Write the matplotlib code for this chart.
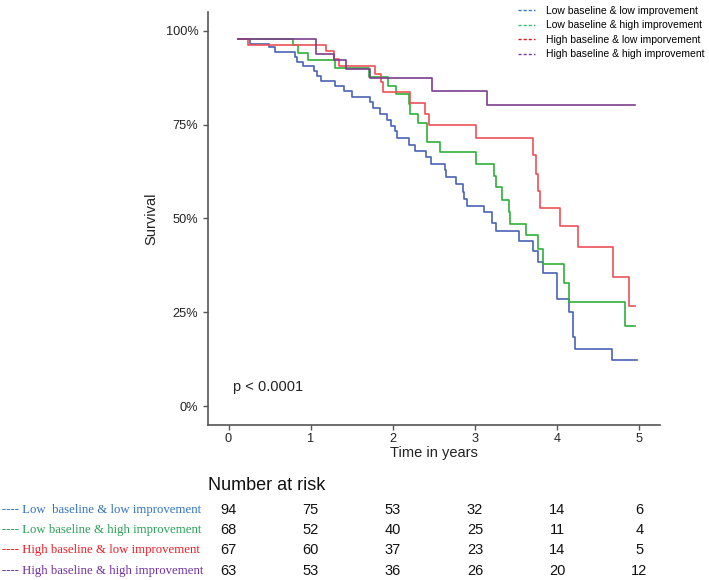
import matplotlib
matplotlib.use("Agg")
import matplotlib.pyplot as plt
import matplotlib.transforms as mtransforms
from matplotlib.lines import Line2D

plt.rcParams['font.family'] = ['Liberation Sans', 'DejaVu Sans']

# survival curves (time in years, survival %)
blue_t = [0.12, 0.26, 0.49, 0.56, 0.81, 0.83, 0.91, 1.04, 1.08, 1.12, 1.29, 1.40,
          1.50, 1.72, 1.76, 1.84, 1.93, 1.98, 2.03, 2.05, 2.20, 2.27, 2.40, 2.46,
          2.63, 2.64, 2.77, 2.85, 2.87, 2.90, 3.11, 3.21, 3.26, 3.54, 3.71, 3.77,
          3.83, 4.00, 4.14, 4.19, 4.21, 4.67, 4.97]
blue_s = [97.8, 96.6, 95.6, 94.4, 93.1, 91.8, 90.7, 89.4, 88.0, 86.7, 85.4, 84.0,
          82.3, 81.0, 79.4, 77.8, 76.2, 74.7, 73.2, 71.5, 69.7, 68.1, 66.3, 64.5,
          62.8, 61.0, 59.2, 57.0, 55.2, 53.3, 51.6, 48.9, 46.6, 44.1, 41.3, 38.4,
          35.5, 28.5, 25.1, 18.4, 15.2, 12.2, 12.2]

green_t = [0.12, 0.79, 0.85, 0.97, 1.30, 1.71, 1.94, 2.04, 2.19, 2.21, 2.31, 2.41,
           2.42, 2.57, 3.01, 3.23, 3.25, 3.33, 3.41, 3.42, 3.62, 3.77, 3.83, 4.08,
           4.14, 4.83, 4.95]
green_s = [97.8, 96.2, 94.2, 92.2, 90.1, 87.6, 85.4, 83.1, 80.4, 77.9, 75.4, 72.5,
           70.3, 67.6, 64.5, 61.4, 58.3, 54.8, 51.7, 48.6, 45.5, 41.9, 37.8, 32.8,
           27.8, 21.3, 21.3]

red_t = [0.12, 0.24, 1.18, 1.28, 1.34, 1.78, 1.86, 1.88, 2.21, 2.39, 2.44, 3.01,
         3.71, 3.74, 3.77, 3.79, 4.03, 4.25, 4.68, 4.87, 4.95]
red_s = [97.8, 96.3, 94.5, 92.4, 90.7, 88.6, 86.3, 83.7, 80.8, 77.9, 75.0, 71.5,
         66.8, 61.9, 57.4, 52.8, 48.1, 42.4, 34.4, 26.8, 26.8]

purple_t = [0.12, 1.06, 1.28, 1.43, 1.72, 2.47, 3.15, 4.95]
purple_s = [97.8, 93.8, 92.3, 89.8, 87.4, 84.0, 80.3, 80.3]

group_names = ["Low baseline & low improvement",
               "Low baseline & high improvement",
               "High baseline & low imporvement",
               "High baseline & high improvement"]
table_names = ["---- Low  baseline & low improvement",
               "---- Low baseline & high improvement",
               "---- High baseline & low improvement",
               "---- High baseline & high improvement"]

risk_times = [0, 1, 2, 3, 4, 5]
risk_blue = [94, 75, 53, 32, 14, 6]
risk_green = [68, 52, 40, 25, 11, 4]
risk_red = [67, 60, 37, 23, 14, 5]
risk_purple = [63, 53, 36, 26, 20, 12]

line_colors = ['#4a63b4', '#2fb03a', '#ec5257', '#7d3d8c']
key_colors = ['#2f78d0', '#2fc070', '#e8101a', '#7a3aa8']
table_colors = ['#2f73c0', '#2aa055', '#ee1c25', '#7030a0']

fig = plt.figure(figsize=(7.09, 5.80), dpi=100)
ax = fig.add_axes([208/709, 1-425/580, (660-208)/709, (425-12)/580])

curves = [(blue_t, blue_s), (green_t, green_s), (red_t, red_s), (purple_t, purple_s)]
for (t, s), c in zip(curves, line_colors):
    ax.step(t, s, where='post', color=c, lw=1.2)

ax.set_xlim(-0.25, 5.25)
ax.set_ylim(-5, 105)
ax.set_xticks([0, 1, 2, 3, 4, 5])
ax.set_yticks([0, 25, 50, 75, 100])
ax.set_yticklabels(["0%", "25%", "50%", "75%", "100%"])
for sp in ['top', 'right']:
    ax.spines[sp].set_visible(False)
for sp in ['left', 'bottom']:
    ax.spines[sp].set_color('#555555')
    ax.spines[sp].set_linewidth(1.2)
ax.tick_params(colors='#555555', labelcolor='#222222', labelsize=9.2, length=3.5, width=1)
ax.tick_params(axis='x', pad=2)
ax.set_xlabel("Time in years", fontsize=10.5, color='#222222', labelpad=1)
ax.set_ylabel("Survival", fontsize=10.5, color='#222222', labelpad=5)
ax.text(0.05, 5, "p < 0.0001", fontsize=10.5, color='#222222', va='center', ha='left')

handles = [Line2D([0], [0], color=c, lw=1.0, ls=(0, (2.2, 1.5))) for c in key_colors]
fig.legend(handles, group_names, loc='upper left', bbox_to_anchor=(516/709, 1-4/580),
           frameon=False, fontsize=7.5, handlelength=1.6, handletextpad=1.1,
           labelspacing=0.42, borderaxespad=0, borderpad=0.2)

# number at risk table
trans = mtransforms.blended_transform_factory(ax.transData, fig.transFigure)
fig.text(208/709, 1-485/580, "Number at risk", fontsize=13, color='#111111',
         ha='left', va='center')
row_y = [510, 530, 550, 571]
risks = [risk_blue, risk_green, risk_red, risk_purple]
for name, col, yy, vals in zip(table_names, table_colors, row_y, risks):
    fig.text(2/709, 1-yy/580, name, fontsize=9.2, color=col, ha='left', va='center',
             family=['Liberation Serif', 'DejaVu Serif'])
    for tt, v in zip(risk_times, vals):
        ax.text(tt, 1-yy/580, str(v), transform=trans, fontsize=10.5,
                color='#111111', ha='center', va='center')

fig.savefig("out.png", dpi=100)
